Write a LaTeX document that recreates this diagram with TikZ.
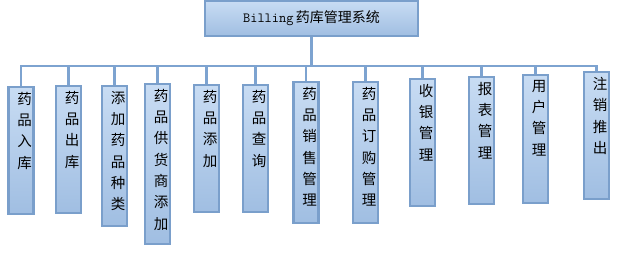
\documentclass[tikz,border=0pt]{standalone}
\usepackage{fontspec}
\newfontfamily\cjk{Noto Sans CJK SC}
\usepackage{xcolor}
\usepackage{tikz}
\usetikzlibrary{positioning,calc}

\definecolor{boxtop}{HTML}{C8DCF3}
\definecolor{boxbot}{HTML}{A0BEE2}
\definecolor{boxline}{HTML}{7A9FCB}
\definecolor{linkline}{HTML}{7DA3D0}

\begin{document}
\begin{tikzpicture}[
    x=1pt, y=-1pt,
    module/.style={draw=boxline, line width=2.2pt, top color=boxtop, bottom color=boxbot,
        minimum width=25pt, anchor=north, inner sep=0pt},
    modtext/.style={anchor=north, align=center, inner sep=0pt, yshift=-6pt, xshift=3.5pt,
        font=\cjk\fontsize{14.5}{21.3}\selectfont, text=black},
    link/.style={draw=linkline, line width=2.2pt},
]
    \useasboundingbox (0,0) rectangle (620,257);

    \node[module, minimum width=213pt, minimum height=35pt, anchor=center] (sys) at (311.5, 18.5)
        {\fontsize{14}{15}\selectfont\ttfamily Billing\,\cjk\fontsize{14}{15}\selectfont 药库管理系统};

    \coordinate (bus) at (0, 66);

    \node[module, minimum height=127pt, label={[modtext]north:药\\品\\入\\库}] (m1) at (21, 86) {};
    \node[module, minimum height=127pt, label={[modtext]north:药\\品\\出\\库}] (m2) at (68.5, 85) {};
    \node[module, minimum height=140pt, label={[modtext]north:添\\加\\药\\品\\种\\类}] (m3) at (114.5, 85) {};
    \node[module, minimum height=160pt, label={[modtext]north:药\\品\\供\\货\\商\\添\\加}] (m4) at (157.5, 83) {};
    \node[module, minimum height=127pt, label={[modtext]north:药\\品\\添\\加}] (m5) at (206.5, 84) {};
    \node[module, minimum height=127pt, label={[modtext]north:药\\品\\查\\询}] (m6) at (255.5, 84) {};
    \node[module, minimum height=141pt, label={[modtext]north:药\\品\\销\\售\\管\\理}] (m7) at (306, 81) {};
    \node[module, minimum height=141pt, label={[modtext]north:药\\品\\订\\购\\管\\理}] (m8) at (365.5, 81) {};
    \node[module, minimum height=127pt, label={[modtext]north:收\\银\\管\\理}] (m9) at (422.5, 78) {};
    \node[module, minimum height=127pt, label={[modtext]north:报\\表\\管\\理}] (m10) at (481.5, 76) {};
    \node[module, minimum height=128pt, label={[modtext]north:用\\户\\管\\理}] (m11) at (535.5, 74) {};
    \node[module, minimum height=127pt, label={[modtext]north:注\\销\\推\\出}] (m12) at (596.5, 71) {};

    % tree connectors
    \draw[link] (sys.south) -- (sys.south |- bus);
    \draw[link] (m1.north) -- (m1.north |- bus) -| (m12.north);
    \draw[link] (m2.north) -- (m2.north |- bus);
    \draw[link] (m3.north) -- (m3.north |- bus);
    \draw[link] (m4.north) -- (m4.north |- bus);
    \draw[link] (m5.north) -- (m5.north |- bus);
    \draw[link] (m6.north) -- (m6.north |- bus);
    \draw[link] (m7.north) -- (m7.north |- bus);
    \draw[link] (m8.north) -- (m8.north |- bus);
    \draw[link] (m9.north) -- (m9.north |- bus);
    \draw[link] (m10.north) -- (m10.north |- bus);
    \draw[link] (m11.north) -- (m11.north |- bus);
\end{tikzpicture}
\end{document}
